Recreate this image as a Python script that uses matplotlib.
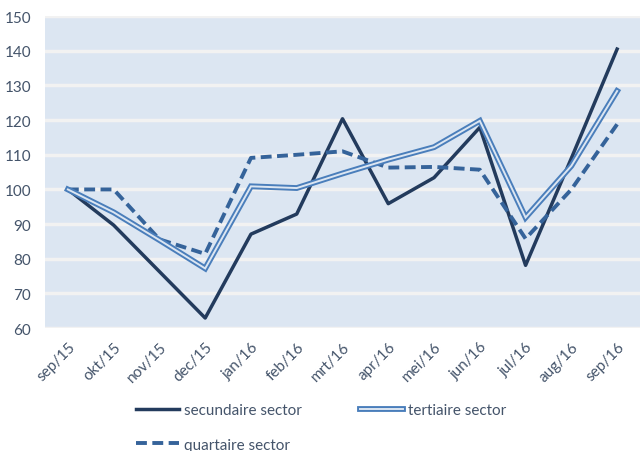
import numpy as np
from matplotlib import pyplot as plt
from matplotlib.legend_handler import HandlerTuple

# Data
months = ["sep/15", "okt/15", "nov/15", "dec/15", "jan/16", "feb/16", "mrt/16",
          "apr/16", "mei/16", "jun/16", "jul/16", "aug/16", "sep/16"]
secundaire = [100, 89.7, 76.3, 62.9, 87.1, 92.9, 120.4, 95.9, 103.4, 117.9, 78.1, 109.0, 140.5]
tertiaire = [100, 93.4, 85.4, 77.2, 100.9, 100.4, 104.6, 108.6, 112.2, 119.8, 91.9, 106.8, 128.4]
quartaire = [100, 100, 85.6, 81.4, 109.1, 110.0, 111.0, 106.3, 106.5, 105.7, 85.8, 100.0, 118.8]
y_ticks = [60, 70, 80, 90, 100, 110, 120, 130, 140, 150]

plt.rcParams['font.family'] = ['Lato', 'DejaVu Sans']
text_col = "#44546a"

fig = plt.figure(figsize=(6.4, 4.52), dpi=100)
ax = fig.add_axes([0.0703, 0.272, 0.9297, 0.690])
ax.set_facecolor("#dce6f2")

x = np.arange(len(months))
l_sec, = ax.plot(x, secundaire, color="#233b5d", linewidth=2.5, zorder=3)
l_ter_out, = ax.plot(x, tertiaire, color="#4a7ebb", linewidth=4.2, zorder=4,
                     solid_joinstyle="miter")
l_ter_in, = ax.plot(x, tertiaire, color="#dce6f2", linewidth=1.4, zorder=5,
                    solid_joinstyle="miter")
l_quar, = ax.plot(x, quartaire, color="#35639a", linewidth=2.8, zorder=3,
                  linestyle=(0, (2.8, 1.4)))

ax.set_xlim(-0.5, len(months) - 0.5)
ax.set_ylim(60, 150)
ax.set_yticks(y_ticks)
ax.set_xticks(x)
ax.set_xticklabels(months, rotation=45, ha="right", rotation_mode="anchor")
ax.tick_params(axis="both", length=0, colors=text_col, labelsize=11)
ax.tick_params(axis="x", pad=8)
ax.tick_params(axis="y", pad=10)
ax.grid(axis="y", color="#f2f2f2", linewidth=2.5, zorder=1)
ax.set_axisbelow(True)
for s in ax.spines.values():
    s.set_visible(False)

leg = fig.legend([l_sec, l_quar, (l_ter_out, l_ter_in)],
                 ["secundaire sector", "quartaire sector", "tertiaire sector"],
                 handler_map={tuple: HandlerTuple(ndivide=1, pad=0)},
                 ncol=2, loc="upper left", bbox_to_anchor=(0.212, 0.106),
                 frameon=False, fontsize=11, handlelength=2.85,
                 handletextpad=0.3, columnspacing=3.8, labelspacing=1.35,
                 borderaxespad=0, borderpad=0)
for t in leg.get_texts():
    t.set_color(text_col)

fig.savefig("out.png", dpi=100)
